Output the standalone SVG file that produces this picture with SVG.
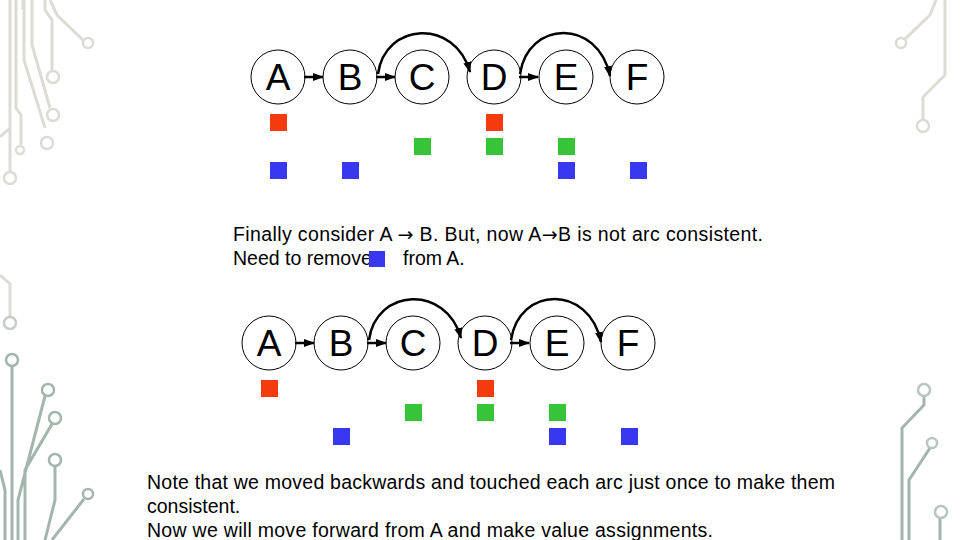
<svg xmlns="http://www.w3.org/2000/svg" width="960" height="540" viewBox="0 0 960 540">
<style>
.n{fill:#fff;stroke:#000;stroke-width:1}
.nl{font-family:"Liberation Sans",Arial,sans-serif;font-size:37px;text-anchor:middle;fill:#000}
.e{fill:none;stroke:#000;stroke-width:2.5;marker-end:url(#ah)}
.t{font-family:"Liberation Sans",Arial,sans-serif;font-size:19.5px;fill:#000}
.ar{font-family:"DejaVu Sans",sans-serif;font-size:19px}
.r{fill:#f63a10}.g{fill:#38c43a}.b{fill:#3838f0}
.dl{fill:none;stroke:#dcdbd6;stroke-width:3}
.dg{fill:none;stroke:#a3b5ad;stroke-width:3}
.dc{fill:#fff;stroke-width:2.5}
</style>
<defs>
<marker id="ah" markerWidth="11" markerHeight="10" refX="10" refY="5" orient="auto" markerUnits="userSpaceOnUse"><path d="M0,1 L11,5 L0,9 Z" fill="#000"/></marker>
<g id="graph">
<g class="conn">
<line class="e" x1="304" y1="77" x2="323" y2="77"/>
<line class="e" x1="376" y1="77" x2="395" y2="77"/>
<line class="e" x1="519" y1="77" x2="538" y2="77"/>
<path class="e" d="M378,74 C385,22 455,18 470,72"/>
<path class="e" d="M520,74 C528,20 598,18 610,76"/>
</g>
</g>
<g id="nodes">
<g id="nA"><circle class="n" cx="278" cy="77" r="27"/><text class="nl" x="278" y="90">A</text></g>
<g id="nB"><circle class="n" cx="350" cy="77" r="27"/><text class="nl" x="350" y="90">B</text></g>
<g id="nC"><circle class="n" cx="422" cy="77" r="27"/><text class="nl" x="422" y="90">C</text></g>
<g id="nD"><circle class="n" cx="494" cy="77" r="27"/><text class="nl" x="494" y="90">D</text></g>
<g id="nE"><circle class="n" cx="566" cy="77" r="27"/><text class="nl" x="566" y="90">E</text></g>
<g id="nF"><circle class="n" cx="637" cy="77" r="27"/><text class="nl" x="637" y="90">F</text></g>
</g>
</defs>
<rect width="960" height="540" fill="#fff"/>
<g id="decor">
<path class="dl" d="M10,0V172 M16,0V108L21,115V145 M23,0V10 M24,0V60L45,128 M32,0V45L50,108 M45,0V10L52,20V70 M50,0L57,15L83,40 M0,137L10,128"/>
<circle class="dc" stroke="#dcdbd6" cx="88" cy="43" r="5"/><circle class="dc" stroke="#dcdbd6" cx="53" cy="77" r="6"/><circle class="dc" stroke="#dcdbd6" cx="53" cy="115" r="6"/><circle class="dc" stroke="#dcdbd6" cx="47" cy="143" r="6"/><circle class="dc" stroke="#dcdbd6" cx="20" cy="150" r="4"/><circle class="dc" stroke="#dcdbd6" cx="10" cy="178" r="6"/>
<path class="dl" d="M0,275L10,284V316"/>
<circle class="dc" stroke="#c8ccc8" cx="10" cy="323" r="6"/>
<path class="dg" d="M12,366V540 M0,470L5,490V540 M18,540V500L45,396 M25,540V470L52,424 M55,466V500L45,540 M52,540L84,499"/>
<circle class="dc" stroke="#a3b5ad" cx="12" cy="360" r="6"/><circle class="dc" stroke="#a3b5ad" cx="48" cy="390" r="6"/><circle class="dc" stroke="#a3b5ad" cx="55" cy="418" r="6"/><circle class="dc" stroke="#a3b5ad" cx="55" cy="460" r="6"/><circle class="dc" stroke="#a3b5ad" cx="88" cy="494" r="5"/>
<path class="dl" d="M905,39L930,15L936,0 M945,0V75L923,97V120"/>
<circle class="dc" stroke="#dcdbd6" cx="901" cy="43" r="5"/><circle class="dc" stroke="#dcdbd6" cx="923" cy="126" r="6"/>
<path class="dg" stroke="#b8c6bf" d="M924,396V405L902,428V540 M930,448L909,480V540 M940,518V540"/>
<circle class="dc" stroke="#b8c6bf" cx="924" cy="390" r="6"/><circle class="dc" stroke="#b8c6bf" cx="932" cy="443" r="5"/><circle class="dc" stroke="#b8c6bf" cx="941" cy="512" r="6"/>
</g>
<g id="top">
<use href="#nodes"/>
<use href="#graph"/>
<rect class="r" x="270" y="114" width="17" height="17"/><rect class="r" x="486" y="114" width="17" height="17"/>
<rect class="g" x="414" y="138" width="17" height="17"/><rect class="g" x="486" y="138" width="17" height="17"/><rect class="g" x="558" y="138" width="17" height="17"/>
<rect class="b" x="270" y="162" width="17" height="17"/><rect class="b" x="342" y="162" width="17" height="17"/><rect class="b" x="558" y="162" width="17" height="17"/><rect class="b" x="630" y="162" width="17" height="17"/>
</g>
<g id="bottom" transform="translate(-9,266)">
<use href="#nodes"/>
<use href="#graph"/>
<rect class="r" x="270" y="114" width="17" height="17"/><rect class="r" x="486" y="114" width="17" height="17"/>
<rect class="g" x="414" y="138" width="17" height="17"/><rect class="g" x="486" y="138" width="17" height="17"/><rect class="g" x="558" y="138" width="17" height="17"/>
<rect class="b" x="342" y="162" width="17" height="17"/><rect class="b" x="558" y="162" width="17" height="17"/><rect class="b" x="630" y="162" width="17" height="17"/>
</g>
<text class="t" x="233" y="241" textLength="530" lengthAdjust="spacing">Finally consider A <tspan class="ar">→</tspan> B. But, now A<tspan class="ar">→</tspan>B is not arc consistent.</text>
<text class="t" x="233" y="265">Need to remove</text>
<text class="t" x="403" y="265">from A.</text>
<rect class="b" x="369" y="251" width="16" height="16"/>
<text class="t" x="147" y="489" textLength="688" lengthAdjust="spacing">Note that we moved backwards and touched each arc just once to make them</text>
<text class="t" x="147" y="513">consistent.</text>
<text class="t" x="147" y="537" textLength="566" lengthAdjust="spacing">Now we will move forward from A and make value assignments.</text>
</svg>
